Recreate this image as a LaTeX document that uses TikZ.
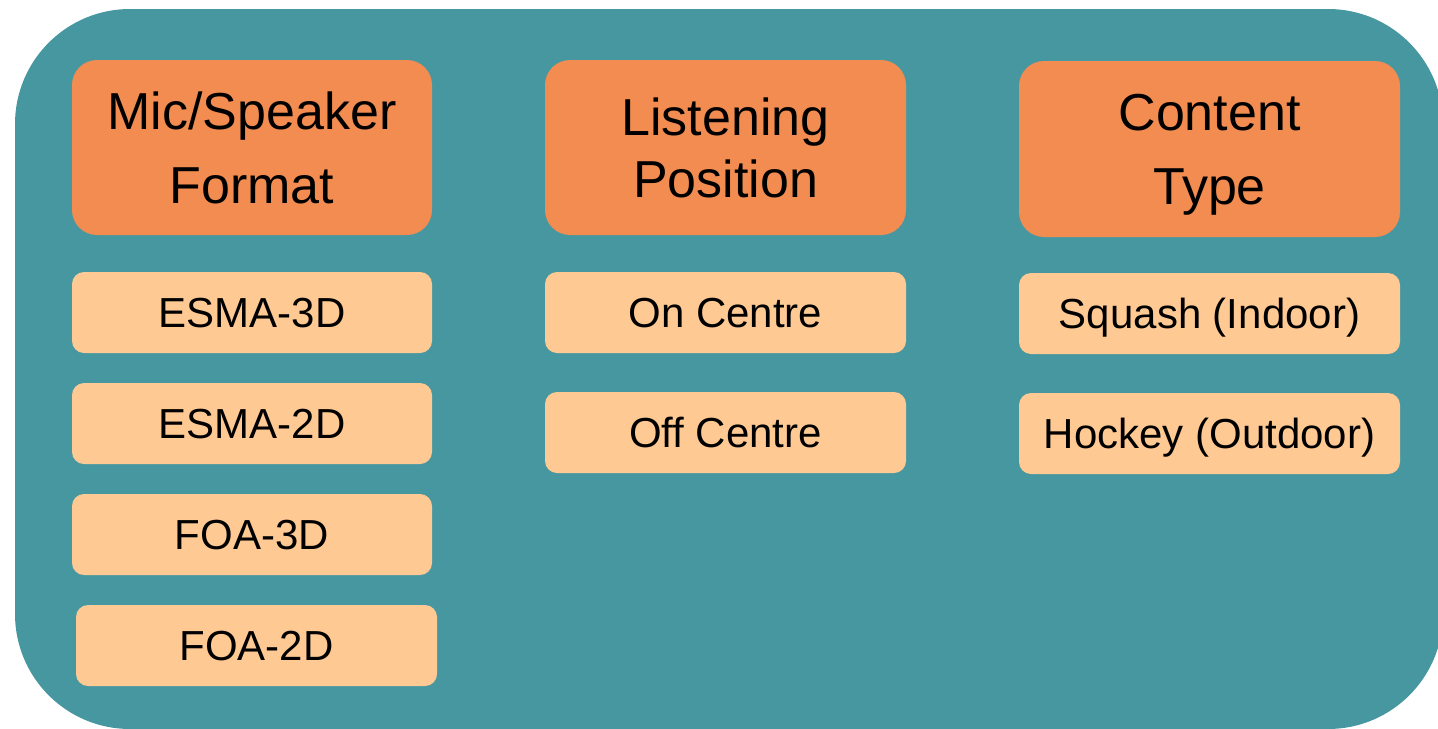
\documentclass[tikz,border=0pt]{standalone}
\usepackage{fontspec}
\setmainfont{Liberation Sans}
\usepackage{tikz}
\usetikzlibrary{positioning}
\definecolor{panelteal}{RGB}{71,151,160}
\definecolor{headorange}{RGB}{242,140,80}
\definecolor{itempeach}{RGB}{255,201,148}

\begin{document}
\begin{tikzpicture}[x=0.5pt,y=-0.5pt,
  header/.style={fill=headorange,rounded corners=12.5pt,inner sep=0pt,outer sep=0pt,
    minimum width=180pt,minimum height=87.5pt,align=center,text depth=0pt,
    font=\fontsize{26}{37}\selectfont},
  item/.style={fill=itempeach,rounded corners=6pt,inner sep=0pt,outer sep=0pt,
    minimum width=180pt,minimum height=40.5pt,text height=15pt,text depth=0pt,
    font=\fontsize{21}{25}\selectfont}]
\useasboundingbox (0,0) rectangle (1438,728);
\clip (0,0) rectangle (1438,728);
% Background panel
\fill[panelteal,rounded corners=57.5pt] (15,9) rectangle (1443,729);

% Mic/Speaker format
\node[header] (format) at (252,147.5) {Mic/Speaker\\Format};
\node[item] (esmathree) at (252,312.5) {ESMA-3D};
\node[item] (esmatwo) at (252,423.5) {ESMA-2D};
\node[item] (foathree) at (252,534.5) {FOA-3D};
\node[item,minimum width=180.5pt] (foatwo) at (256.5,645.5) {FOA-2D};

% Listening position
\node[header,minimum width=180.5pt,font=\fontsize{26}{31}\selectfont] (position) at (725.5,147.5) {Listening\\Position};
\node[item,minimum width=180.5pt] (oncentre) at (725.5,312.5) {On Centre};
\node[item,minimum width=180.5pt] (offcentre) at (725.5,432.5) {Off Centre};

% Content type
\node[header,minimum width=190.5pt,minimum height=88pt] (content) at (1209.5,149) {Content\\Type};
\node[item,minimum width=190.5pt] (squash) at (1209.5,313.5) {Squash (Indoor)};
\node[item,minimum width=190.5pt] (hockey) at (1209.5,433.5) {Hockey (Outdoor)};
\end{tikzpicture}
\end{document}
